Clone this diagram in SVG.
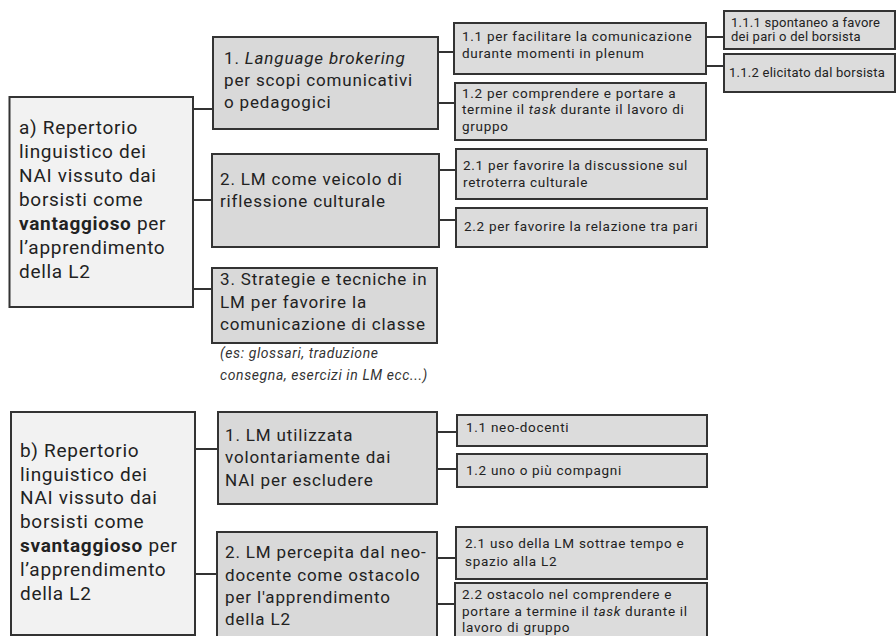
<svg xmlns="http://www.w3.org/2000/svg" width="896" height="636" viewBox="0 0 896 636">
<style>
text{font-family:Roboto,"Liberation Sans",sans-serif;fill:#222}
.root{fill:#f2f2f2;stroke:#333;stroke-width:2}
.mid{fill:#d9d9d9;stroke:#333;stroke-width:2}
.leaf{fill:#dcdcdc;stroke:#333;stroke-width:2}
.t18{font-size:19px;letter-spacing:0.7px}
.t17{font-size:17px;letter-spacing:0.85px}
.t13{font-size:13.5px;letter-spacing:0.7px}
.t12{font-size:13px;letter-spacing:0.25px}
.note{font-size:14px;font-style:italic;fill:#333;letter-spacing:0.6px}
.conn line{stroke:#333;stroke-width:2}
</style>
<rect width="896" height="636" fill="#fff"/>
<g class="conn">
<line x1="193" y1="109" x2="213" y2="109"/>
<line x1="193" y1="200" x2="212" y2="200"/>
<line x1="193" y1="289" x2="212" y2="289"/>
<line x1="438" y1="52" x2="454" y2="52"/>
<line x1="438" y1="103" x2="455" y2="103"/>
<line x1="706" y1="37" x2="724" y2="37"/>
<line x1="706" y1="66" x2="724" y2="66"/>
<line x1="439" y1="170" x2="456" y2="170"/>
<line x1="439" y1="220" x2="456" y2="220"/>
<line x1="195" y1="449" x2="218" y2="449"/>
<line x1="195" y1="574" x2="217" y2="574"/>
<line x1="437" y1="432" x2="457" y2="432"/>
<line x1="437" y1="469" x2="457" y2="469"/>
<line x1="437" y1="558" x2="456" y2="558"/>
<line x1="437" y1="604" x2="455" y2="604"/>
</g>
<g id="a">
<rect class="root" x="9.5" y="97" width="183.5" height="210"/>
<text class="t18" x="19"><tspan x="19" y="134">a) Repertorio</tspan><tspan x="19" y="158">linguistico dei</tspan><tspan x="19" y="182">NAI vissuto dai</tspan><tspan x="19" y="206">borsisti come</tspan><tspan x="19" y="230"><tspan font-weight="bold">vantaggioso</tspan> per</tspan><tspan x="19" y="254">l’apprendimento</tspan><tspan x="19" y="278">della L2</tspan></text>
</g>
<g id="a1">
<rect class="mid" x="213" y="37" width="225" height="92"/>
<text class="t17"><tspan x="224" y="64">1. <tspan font-style="italic">Language brokering</tspan></tspan><tspan x="224" y="86">per scopi comunicativi</tspan><tspan x="224" y="108">o pedagogici</tspan></text>
</g>
<g id="a2">
<rect class="mid" x="212" y="154" width="227" height="93"/>
<text class="t17"><tspan x="220" y="185">2. LM come veicolo di</tspan><tspan x="220" y="207">riflessione culturale</tspan></text>
</g>
<g id="a3">
<rect class="mid" x="212" y="268" width="225" height="75"/>
<text class="t17"><tspan x="220" y="285">3. Strategie e tecniche in</tspan><tspan x="220" y="308">LM per favorire la</tspan><tspan x="220" y="330">comunicazione di classe</tspan></text>
<text class="note"><tspan x="220" y="358">(es: glossari, traduzione</tspan><tspan x="220" y="380">consegna, esercizi in LM ecc...)</tspan></text>
</g>
<g id="a11">
<rect class="leaf" x="454" y="23" width="252" height="51"/>
<text class="t13"><tspan x="462" y="41">1.1 per facilitare la comunicazione</tspan><tspan x="462" y="58">durante momenti in plenum</tspan></text>
</g>
<g id="a12">
<rect class="leaf" x="455" y="83" width="251" height="57"/>
<text class="t13"><tspan x="462" y="98">1.2 per comprendere e portare a</tspan><tspan x="462" y="114">termine il <tspan font-style="italic">task</tspan> durante il lavoro di</tspan><tspan x="462" y="131">gruppo</tspan></text>
</g>
<g id="a111">
<rect class="leaf" x="724" y="11" width="171" height="38"/>
<text class="t12"><tspan x="731" y="27">1.1.1 spontaneo a favore</tspan><tspan x="731" y="41">dei pari o del borsista</tspan></text>
</g>
<g id="a112">
<rect class="leaf" x="724" y="54" width="171" height="38"/>
<text class="t12" x="729" y="77">1.1.2 elicitato dal borsista</text>
</g>
<g id="a21">
<rect class="leaf" x="456" y="149" width="251" height="50"/>
<text class="t13"><tspan x="463" y="170">2.1 per favorire la discussione sul</tspan><tspan x="463" y="187">retroterra culturale</tspan></text>
</g>
<g id="a22">
<rect class="leaf" x="456" y="208" width="251" height="39"/>
<text class="t13" x="464" y="231">2.2 per favorire la relazione tra pari</text>
</g>
<g id="b">
<rect class="root" x="11" y="412" width="184" height="223"/>
<text class="t18"><tspan x="20" y="457">b) Repertorio</tspan><tspan x="20" y="481">linguistico dei</tspan><tspan x="20" y="504">NAI vissuto dai</tspan><tspan x="20" y="528">borsisti come</tspan><tspan x="20" y="552"><tspan font-weight="bold">svantaggioso</tspan> per</tspan><tspan x="20" y="576">l’apprendimento</tspan><tspan x="20" y="600">della L2</tspan></text>
</g>
<g id="b1">
<rect class="mid" x="218" y="412" width="219" height="92"/>
<text class="t17"><tspan x="225" y="441">1. LM utilizzata</tspan><tspan x="225" y="463">volontariamente dai</tspan><tspan x="225" y="486">NAI per escludere</tspan></text>
</g>
<g id="b2">
<rect class="mid" x="217" y="532" width="220" height="110"/>
<text class="t17"><tspan x="225" y="558">2. LM percepita dal neo-</tspan><tspan x="225" y="581">docente come ostacolo</tspan><tspan x="225" y="603">per l'apprendimento</tspan><tspan x="225" y="625">della L2</tspan></text>
</g>
<g id="b11">
<rect class="leaf" x="457" y="415" width="250" height="31"/>
<text class="t13" x="466" y="432">1.1 neo-docenti</text>
</g>
<g id="b12">
<rect class="leaf" x="457" y="454" width="250" height="33"/>
<text class="t13" x="466" y="475">1.2 uno o più compagni</text>
</g>
<g id="b21">
<rect class="leaf" x="456" y="527" width="251" height="52"/>
<text class="t13"><tspan x="465" y="548">2.1 uso della LM sottrae tempo e</tspan><tspan x="465" y="566">spazio alla L2</tspan></text>
</g>
<g id="b22">
<rect class="leaf" x="455" y="583" width="252" height="60"/>
<text class="t13"><tspan x="462" y="599">2.2 ostacolo nel comprendere e</tspan><tspan x="462" y="616">portare a termine il <tspan font-style="italic">task</tspan> durante il</tspan><tspan x="462" y="632">lavoro di gruppo</tspan></text>
</g>
</svg>
